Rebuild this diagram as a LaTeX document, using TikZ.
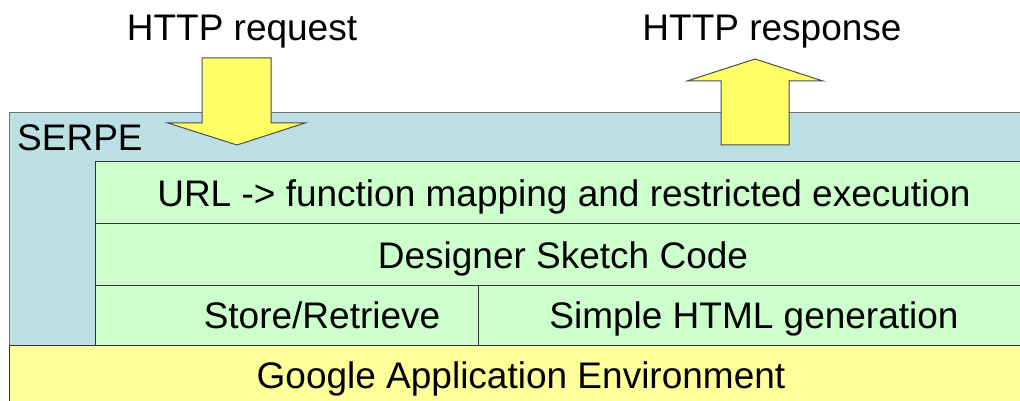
\documentclass[tikz,border=0pt]{standalone}
\usepackage{fontspec}
\setmainfont{Liberation Sans}
\usepackage{tikz}

\definecolor{serpeblue}{HTML}{BBDFE3}
\definecolor{layergreen}{HTML}{CCFFCC}
\definecolor{gaeyellow}{HTML}{FFFF99}
\definecolor{arrowyellow}{HTML}{FFFF66}

\begin{document}
\begin{tikzpicture}[x=1pt, y=-1pt,
    every node/.style={font=\fontsize{37}{44}\selectfont, inner sep=0pt},
    lbl/.style={anchor=base},
    box/.style={draw=black!80, line width=1pt, anchor=north west},
    blockarrow/.style={draw=black!70, fill=arrowyellow, line width=1pt, line join=miter}]
    \useasboundingbox (0,0) rectangle (1020,401);

    \node[box, draw=black!55, fill=serpeblue, minimum width=1030pt, minimum height=233pt] at (9,112) (serpe) {};
    \node[anchor=base west] at (17,150) (serpelabel) {SERPE};

    \node[box, fill=layergreen, minimum width=940pt, minimum height=62pt] at (95,161) (url) {};
    \node[lbl] at (564,206) (urltext) {URL -> function mapping and restricted execution};
    \node[box, fill=layergreen, minimum width=940pt, minimum height=62pt] at (95,223) (code) {};
    \node[lbl] at (563,268) (codetext) {Designer Sketch Code};
    \node[box, fill=layergreen, minimum width=383pt, minimum height=60pt] at (95,285) (store) {};
    \node[lbl] at (322,328) (storetext) {Store/Retrieve};
    \node[box, fill=layergreen, minimum width=557pt, minimum height=60pt] at (478,285) (html) {};
    \node[lbl] at (754,328) (htmltext) {Simple HTML generation};
    \node[box, fill=gaeyellow, minimum width=1030pt, minimum height=70pt] at (9,345) (gae) {};
    \node[lbl] at (521,388) (gaetext) {Google Application Environment};

    % request / response
    \node[lbl] at (242,41) (request) {HTTP request};
    \node[lbl] at (772,41) (response) {HTTP response};
    \draw[blockarrow] (202,58) -- (271,58) -- (271,123) -- (305,123) -- (237,145)
        -- (168,123) -- (202,123) -- cycle;
    \draw[blockarrow] (721,145) -- (789,145) -- (789,81) -- (823,81) -- (755,59)
        -- (687,81) -- (721,81) -- cycle;
\end{tikzpicture}
\end{document}
